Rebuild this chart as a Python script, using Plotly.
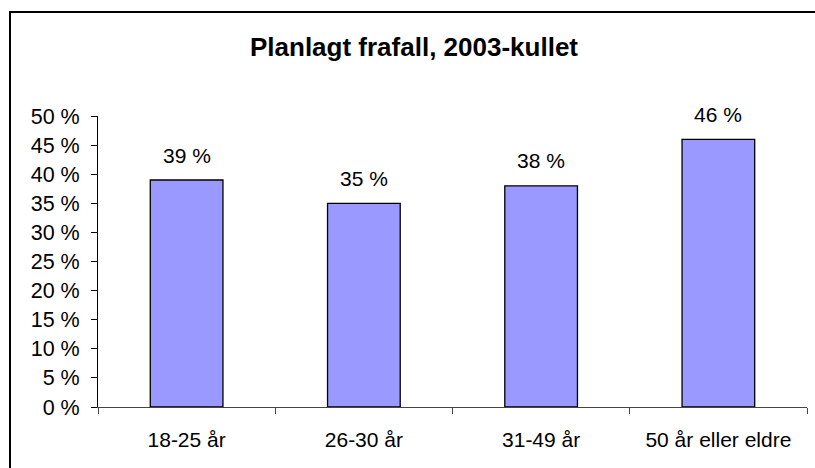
import plotly.graph_objects as go

categories = ["18-25 år", "26-30 år", "31-49 år", "50 år eller eldre"]
values = [39, 35, 38, 46]
tick_vals = [0, 5, 10, 15, 20, 25, 30, 35, 40, 45, 50]
tick_text = [f"{v} %" for v in tick_vals]
title_text = "Planlagt frafall, 2003-kullet"

W, H = 815, 468
L, R, T, B = 98, 8, 116, 61
pw, ph = W - L - R, H - T - B

FONT = "Liberation Sans, Arial, sans-serif"

fig = go.Figure()
fig.add_trace(go.Bar(
    x=categories, y=values,
    marker=dict(color="#9999FF", line=dict(color="#000000", width=1.3)),
    width=0.41,
    hoverinfo="skip",
))

for c, v in zip(categories, values):
    fig.add_annotation(x=c, y=v, text=f"{v} %", showarrow=False,
                       xref="x", yref="y", yanchor="middle", yshift=25,
                       font=dict(family=FONT, size=21, color="#000000"))

# chart border
fig.add_shape(type="rect", xref="paper", yref="paper",
              x0=(10 - L) / pw, x1=(W + 20 - L) / pw,
              y0=(H - B - (H + 20)) / ph, y1=(H - B - 12) / ph,
              line=dict(color="#000000", width=2), layer="below")

fig.update_layout(
    width=W, height=H,
    margin=dict(l=L, r=R, t=T, b=B, autoexpand=False),
    paper_bgcolor="#ffffff", plot_bgcolor="#ffffff",
    showlegend=False,
    font=dict(family=FONT, size=21, color="#000000"),
    title=dict(text=f"<b>{title_text}</b>", xref="container", yref="container",
               x=414 / W, y=1 - 47 / H, xanchor="center", yanchor="middle",
               font=dict(family=FONT, size=26, color="#000000")),
)
fig.update_xaxes(
    showline=True, linecolor="#444444", linewidth=1,
    ticks="outside", ticklen=6, tickcolor="#444444", tickson="boundaries",
    showgrid=False, zeroline=False,
    tickfont=dict(family=FONT, size=21, color="#000000"),
    ticklabelstandoff=14,
)
fig.update_yaxes(
    range=[0, 50], tickvals=tick_vals, ticktext=tick_text,
    showline=True, linecolor="#000000", linewidth=1,
    ticks="outside", ticklen=6, tickcolor="#000000",
    showgrid=False, zeroline=False,
    tickfont=dict(family=FONT, size=21.5, color="#000000"),
    ticklabelstandoff=7,
)

fig.write_html("out.html", config={"displayModeBar": False, "staticPlot": True},
               post_script="document.body.style.margin='0';document.body.style.overflow='hidden';")
